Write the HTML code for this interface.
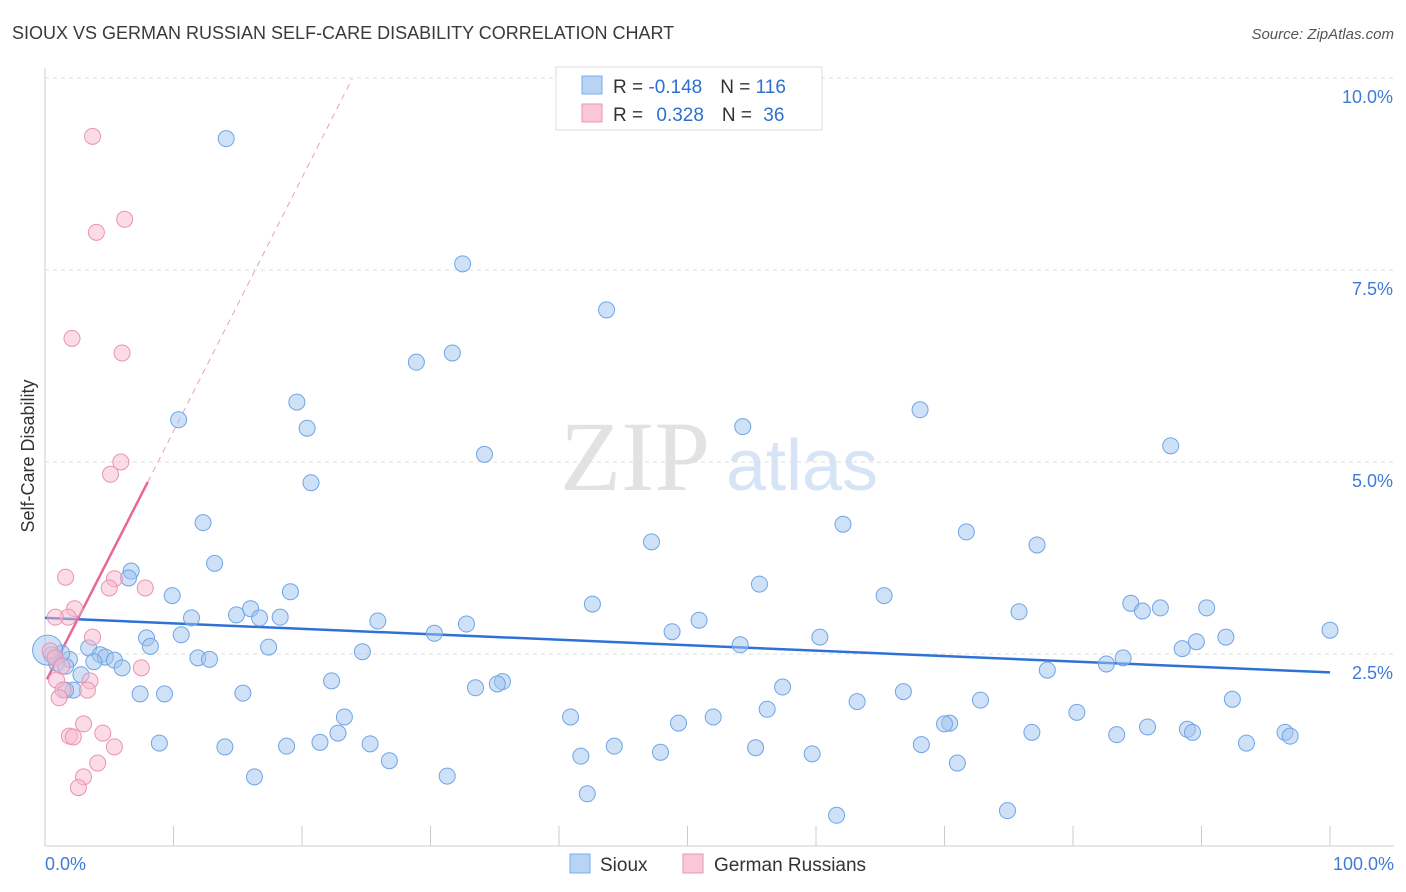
<!DOCTYPE html>
<html><head><meta charset="utf-8"><style>
body{margin:0;background:#fff;font-family:"Liberation Sans",sans-serif;}
svg{display:block}
</style></head><body>
<svg id="chart" width="1406" height="892" viewBox="0 0 1406 892" xmlns="http://www.w3.org/2000/svg">
<text x="12" y="39" font-size="18" fill="#3a3a3a" font-family="Liberation Sans, sans-serif">SIOUX VS GERMAN RUSSIAN SELF-CARE DISABILITY CORRELATION CHART</text>
<text x="1394" y="39" font-size="15" fill="#555" text-anchor="end" font-style="italic">Source: ZipAtlas.com</text>
<g>
<text x="635" y="490" font-size="100" fill="#e2e2e2" text-anchor="middle" font-family="Liberation Serif, serif">ZIP</text>
<text x="802" y="490" font-size="72" fill="#d6e4f5" text-anchor="middle">atlas</text>
</g>
<g id="grid"></g>
<g id="axes"></g>
<g id="trends"></g>
<g id="points"></g>
<g>
<rect x="556" y="67" width="266" height="63" fill="#fff" stroke="#ddd"/>
<rect x="582" y="76" width="20" height="18" fill="#b9d3f5" stroke="#7aaee8"/>
<rect x="582" y="104" width="20" height="18" fill="#f9c7d6" stroke="#eb95b0"/>
<text x="613" y="93" font-size="19" fill="#333">R = <tspan fill="#2d6fd1">-0.148</tspan><tspan dx="18" fill="#333">N = </tspan><tspan fill="#2d6fd1">116</tspan></text>
<text x="613" y="121" font-size="19" fill="#333">R = <tspan dx="8" fill="#2d6fd1">0.328</tspan><tspan dx="18" fill="#333">N = </tspan><tspan dx="6" fill="#2d6fd1">36</tspan></text>
</g>
<g>
<rect x="570" y="854" width="20" height="19" fill="#b9d3f5" stroke="#7aaee8"/>
<text x="600" y="871" font-size="19" fill="#333">Sioux</text>
<rect x="683" y="854" width="20" height="19" fill="#f9c7d6" stroke="#eb95b0"/>
<text x="714" y="871" font-size="19" fill="#333">German Russians</text>
</g>
<text transform="translate(34,456) rotate(-90)" font-size="18" fill="#333" text-anchor="middle">Self-Care Disability</text>
</svg>
<script>
const yTicks=[2.5,5.0,7.5,10.0];
const xTickLabels=["0.0%","100.0%"];
const siouxX=[14.1,32.5,43.7,28.9,31.7,19.6,20.4,10.4,34.2,20.7,68.1,54.3,87.6,12.3,62.1,71.7,47.2,77.2,13.2,6.7,6.5,55.6,19.1,9.9,65.3,42.6,84.5,85.4,86.8,90.4,75.8,16.0,14.9,16.7,18.3,11.4,25.9,50.9,32.8,30.3,48.8,10.6,7.9,60.3,91.9,100,89.6,88.5,54.1,8.2,17.4,3.4,24.7,4.3,4.7,1.9,5.4,3.8,11.9,12.8,0.9,1.6,6.0,2.8,83.9,82.6,78.0,22.3,35.6,33.5,35.2,57.4,2.2,7.4,9.3,15.4,66.8,72.8,92.4,63.2,23.3,40.9,52.0,56.2,49.3,80.3,70.4,70.0,85.8,83.4,76.8,88.9,89.3,96.5,96.9,93.5,8.9,14.0,18.8,21.4,22.8,25.3,44.3,47.9,55.3,68.2,59.7,41.7,26.8,71.0,16.3,31.3,42.2,61.6,74.9,1.6,1.3,0.5,0.2];
const siouxY=[9.21,7.58,6.98,6.30,6.42,5.78,5.44,5.55,5.10,4.73,5.68,5.46,5.21,4.21,4.19,4.09,3.96,3.92,3.68,3.58,3.49,3.41,3.31,3.26,3.26,3.15,3.16,3.06,3.10,3.10,3.05,3.09,3.01,2.97,2.98,2.97,2.93,2.94,2.89,2.77,2.79,2.75,2.71,2.72,2.72,2.81,2.66,2.57,2.62,2.60,2.59,2.58,2.53,2.49,2.46,2.43,2.42,2.40,2.45,2.43,2.38,2.34,2.32,2.23,2.45,2.37,2.29,2.15,2.14,2.06,2.11,2.07,2.03,1.98,1.98,1.99,2.01,1.90,1.91,1.88,1.68,1.68,1.68,1.78,1.60,1.74,1.60,1.59,1.55,1.45,1.48,1.52,1.48,1.48,1.43,1.34,1.34,1.29,1.30,1.35,1.47,1.33,1.30,1.22,1.28,1.32,1.20,1.17,1.11,1.08,0.90,0.91,0.68,0.40,0.46,2.03,2.51,2.49,2.55];
const grX=[3.7,6.2,4.0,2.1,6.0,5.9,5.1,1.6,5.4,5.0,7.8,2.3,1.8,0.8,3.7,0.4,0.8,1.3,7.5,0.9,3.5,1.4,1.1,3.3,3.0,1.9,2.2,4.5,5.4,4.1,3.0,2.6];
const grY=[9.24,8.16,7.99,6.61,6.42,5.00,4.84,3.50,3.48,3.36,3.36,3.09,2.98,2.98,2.72,2.54,2.45,2.34,2.32,2.16,2.15,2.03,1.93,2.03,1.59,1.43,1.42,1.47,1.29,1.08,0.90,0.76];
const siouxTrend=[[0,2.97],[100,2.26]];
const grTrendSolid=[[0.15,2.17],[8.0,4.74]];
const grTrendDashed=[[8.0,4.74],[23.9,9.99]];
const NS="http://www.w3.org/2000/svg";
const X=v=>45+v*12.85, Y=v=>846-v*76.8;
function mk(tag,attrs,parent){const e=document.createElementNS(NS,tag);for(const k in attrs)e.setAttribute(k,attrs[k]);parent.appendChild(e);return e;}
const grid=document.getElementById('grid'),axes=document.getElementById('axes'),tr=document.getElementById('trends'),pts=document.getElementById('points');
yTicks.forEach(t=>{
 const l=mk('line',{x1:45,x2:1394,y1:Y(t),y2:Y(t),stroke:'#ddd','stroke-dasharray':'4,4'},grid);
 
 
 const tx=mk('text',{x:1393,y:Y(t)+25,'font-size':18,fill:'#3f7bd6','text-anchor':'end'},grid);
 tx.textContent=t.toFixed(1)+'%';
 
 
});
const ax=mk('line',{x1:45,x2:1394,y1:846,y2:846,stroke:'#ccc'},axes);


const ay=mk('line',{x1:45,x2:45,y1:68,y2:846,stroke:'#ccc'},axes);


for(let i=0;i<=10;i++){
 const tk=mk('line',{x1:X(i*10),x2:X(i*10),y1:826,y2:846,stroke:'#ccc'},axes);
 
 
}
[[0,'start',45],[100,'end',1394]].forEach((a,i)=>{
 const t=mk('text',{x:a[2],y:870,'font-size':18,fill:'#3f7bd6','text-anchor':a[1]},axes);
 t.textContent=xTickLabels[i];
 
 
});
function line(p,stroke,dash,name){
 const l=mk('line',{x1:X(p[0][0]),y1:Y(p[0][1]),x2:X(p[1][0]),y2:Y(p[1][1]),stroke:stroke,'stroke-width':dash?1:2.5},tr);
 if(dash)l.setAttribute('stroke-dasharray','6,5');
 
 
}
siouxX.forEach((x,i)=>{
 const big=i===siouxX.length-1;
 const c=mk('circle',{cx:X(x),cy:Y(siouxY[i]),r:big?15:8,fill:'rgba(160,196,240,0.5)',stroke:'#6fa5e6','stroke-width':1},pts);
 
 
});
grX.forEach((x,i)=>{
 const c=mk('circle',{cx:X(x),cy:Y(grY[i]),r:8,fill:'rgba(248,185,205,0.5)',stroke:'#ea93b0','stroke-width':1},pts);
 
 
});
line(siouxTrend,'#2f72d6',false,'sioux-trend-line');
line(grTrendSolid,'#e8679a',false,'german-russian-trend-line');
line(grTrendDashed,'#eaa0bb',true,'german-russian-trend-extension');
</script>
</body></html>
